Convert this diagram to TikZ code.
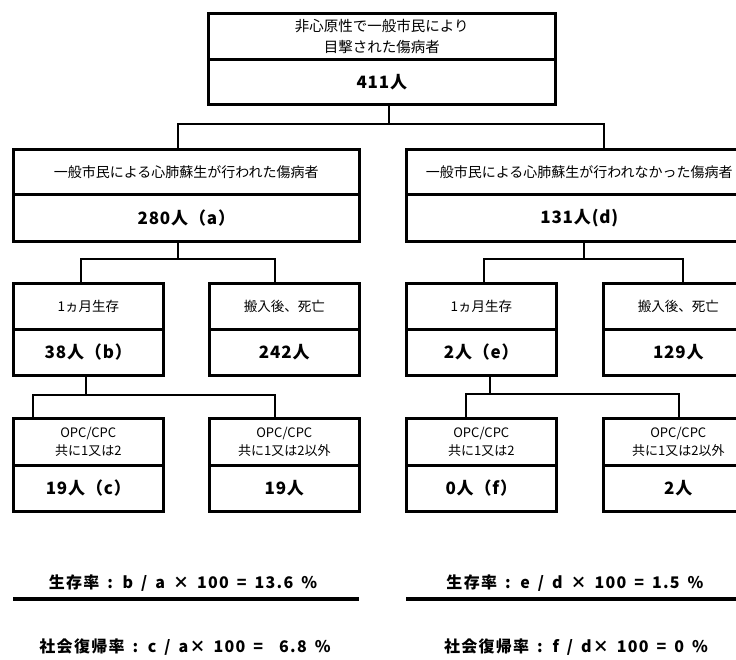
\documentclass[tikz,border=0pt]{standalone}
\usepackage{fontspec}
\setmainfont{Noto Sans CJK JP}
\newcommand\widespaces{\spaceskip=0.5em\relax}
\begin{document}
\begin{tikzpicture}[x=1pt,y=-1pt,
 cell/.style={draw, line width=1.6pt, inner sep=0pt, align=center, anchor=north west},
 frame/.style={draw, line width=3pt},
 conn/.style={line width=1.7pt},
 toplab/.style={font=\fontsize{14.5}{21}\selectfont},
 lab/.style={font=\fontsize{14}{20}\selectfont},
 sublab/.style={font=\fontsize{13.5}{18}\selectfont},
 opclab/.style={font=\fontsize{13}{18}\selectfont},
 num/.style={font=\fontsize{17}{20}\selectfont\bfseries\addfontfeature{LetterSpace=5}},
 rate/.style={font=\fontsize{16}{20}\selectfont\bfseries\addfontfeature{LetterSpace=8}},
 rulebar/.style={line width=3.3pt}
]
\path[use as bounding box] (0,0) rectangle (736,659);
\clip (0,0) rectangle (736,659);

% ---------- connectors ----------
\coordinate (j0) at (389,124);
\coordinate (a1) at (178,124);
\coordinate (a2) at (604,124);
\coordinate (j1) at (178,259);
\coordinate (b1) at (81,259);
\coordinate (b2) at (275,259);
\coordinate (j2) at (584,259);
\coordinate (c1) at (484,259);
\coordinate (c2) at (683,259);
\coordinate (j3) at (86,395);
\coordinate (d1) at (33,395);
\coordinate (d2) at (275,395);
\coordinate (j4) at (490,394);
\coordinate (e1) at (466,394);
\coordinate (e2) at (679,394);

% ---------- top box ----------
\node[cell, toplab, minimum width=346pt, minimum height=45pt] (Tu) at (208,13) {非心原性で一般市民により\\目撃された傷病者};
\node[cell, num, minimum width=346pt, minimum height=43pt] (Tl) at (Tu.south west) {411人};
\draw[frame] (Tu.north west) rectangle (Tl.south east);

% ---------- second row ----------
\node[cell, lab, minimum width=345pt, minimum height=44pt] (MLu) at (13,149) {一般市民による心肺蘇生が行われた傷病者};
\node[cell, num, minimum width=345pt, minimum height=45pt] (MLl) at (MLu.south west) {280人（a）};
\draw[frame] (MLu.north west) rectangle (MLl.south east);

\node[cell, lab, minimum width=345pt, minimum height=44pt] (MRu) at (406,149) {一般市民による心肺蘇生が行われなかった傷病者};
\node[cell, num, minimum width=345pt, minimum height=45pt] (MRl) at (MRu.south west) {131人(d)};
\draw[frame] (MRu.north west) rectangle (MRl.south east);

% ---------- third row ----------
\node[cell, sublab, minimum width=149pt, minimum height=45pt] (L1u) at (13,283) {1ヵ月生存};
\node[cell, num, minimum width=149pt, minimum height=44pt] (L1l) at (L1u.south west) {38人（b）};
\draw[frame] (L1u.north west) rectangle (L1l.south east);

\node[cell, sublab, minimum width=149pt, minimum height=45pt] (L2u) at (209,283) {搬入後、死亡};
\node[cell, num, minimum width=149pt, minimum height=44pt] (L2l) at (L2u.south west) {242人};
\draw[frame] (L2u.north west) rectangle (L2l.south east);

\node[cell, sublab, minimum width=149pt, minimum height=45pt] (R1u) at (406,283) {1ヵ月生存};
\node[cell, num, minimum width=149pt, minimum height=44pt] (R1l) at (R1u.south west) {2人（e）};
\draw[frame] (R1u.north west) rectangle (R1l.south east);

\node[cell, sublab, minimum width=149pt, minimum height=45pt] (R2u) at (603,283) {搬入後、死亡};
\node[cell, num, minimum width=149pt, minimum height=44pt] (R2l) at (R2u.south west) {129人};
\draw[frame] (R2u.north west) rectangle (R2l.south east);

% ---------- fourth row ----------
\node[cell, opclab, minimum width=149pt, minimum height=46pt] (LL1u) at (13,418) {OPC/CPC\\共に1又は2};
\node[cell, num, minimum width=149pt, minimum height=44pt] (LL1l) at (LL1u.south west) {19人（c）};
\draw[frame] (LL1u.north west) rectangle (LL1l.south east);

\node[cell, opclab, minimum width=149pt, minimum height=46pt] (LL2u) at (209,418) {OPC/CPC\\共に1又は2以外};
\node[cell, num, minimum width=149pt, minimum height=44pt] (LL2l) at (LL2u.south west) {19人};
\draw[frame] (LL2u.north west) rectangle (LL2l.south east);

\node[cell, opclab, minimum width=149pt, minimum height=46pt] (RR1u) at (406,418) {OPC/CPC\\共に1又は2};
\node[cell, num, minimum width=149pt, minimum height=44pt] (RR1l) at (RR1u.south west) {0人（f）};
\draw[frame] (RR1u.north west) rectangle (RR1l.south east);

\node[cell, opclab, minimum width=149pt, minimum height=46pt] (RR2u) at (603,418) {OPC/CPC\\共に1又は2以外};
\node[cell, num, minimum width=149pt, minimum height=44pt] (RR2l) at (RR2u.south west) {2人};
\draw[frame] (RR2u.north west) rectangle (RR2l.south east);

% ---------- connector lines ----------
\draw[conn] (Tl.south -| j0) -- (j0);
\draw[conn] (a1 |- MLu.north) -- (a1) -- (a2) -- (a2 |- MRu.north);
\draw[conn] (MLl.south -| j1) -- (j1);
\draw[conn] (b1 |- L1u.north) -- (b1) -- (b2) -- (b2 |- L2u.north);
\draw[conn] (MRl.south -| j2) -- (j2);
\draw[conn] (c1 |- R1u.north) -- (c1) -- (c2) -- (c2 |- R2u.north);
\draw[conn] (L1l.south -| j3) -- (j3);
\draw[conn] (d1 |- LL1u.north) -- (d1) -- (d2) -- (d2 |- LL2u.north);
\draw[conn] (R1l.south -| j4) -- (j4);
\draw[conn] (e1 |- RR1u.north) -- (e1) -- (e2) -- (e2 |- RR2u.north);

% ---------- rates ----------
\node[rate] (r1) at (183,583) {\widespaces 生存率 : b / a × 100 = 13.6 \%};
\node[rate] (r2) at (575,583) {\widespaces 生存率 : e / d × 100 = 1.5 \%};
\coordinate (s1) at (13,599);
\coordinate (s2) at (359,599);
\coordinate (s3) at (406,599);
\coordinate (s4) at (752,599);
\draw[rulebar] (s1) -- (s2);
\draw[rulebar] (s3) -- (s4);
\node[rate] (r3) at (185,647) {\widespaces 社会復帰率 : c / a× 100 = ~6.8 \%};
\node[rate] (r4) at (576,647) {\widespaces 社会復帰率 : f / d× 100 = 0 \%};
\end{tikzpicture}
\end{document}
